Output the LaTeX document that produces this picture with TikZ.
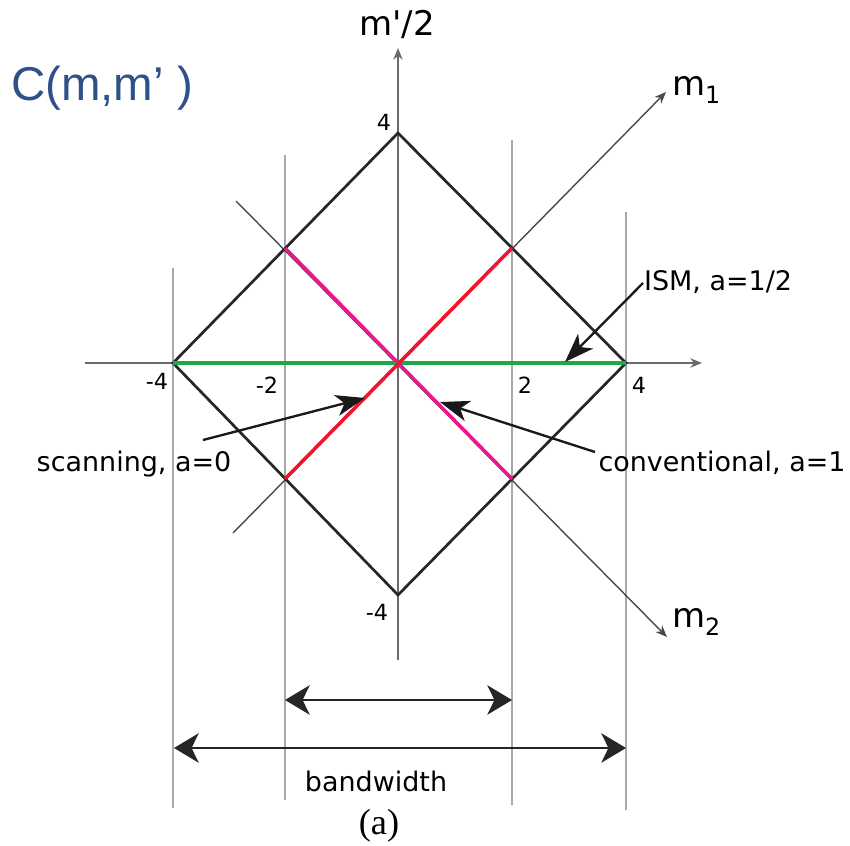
\documentclass[tikz,border=0pt]{standalone}
\usepackage{fontspec}
\setmainfont{DejaVu Sans}
\newfontfamily\arialf{Liberation Sans}
\newfontfamily\timesf{Liberation Serif}
\newfontfamily\plainsans[Ligatures=ResetAll]{DejaVu Sans}
\usetikzlibrary{arrows.meta}
\definecolor{titleblue}{HTML}{2D5289}
\definecolor{gridgray}{HTML}{A8A8A8}
\definecolor{axisgray}{HTML}{6A6A6A}
\definecolor{diaggray}{HTML}{4A4A4A}
\definecolor{pinkline}{HTML}{EC178C}
\definecolor{redline}{HTML}{F2142C}
\definecolor{greenline}{HTML}{1DA94B}
\begin{document}
\begin{tikzpicture}[x=0.03cm,y=-0.03cm,
  gridline/.style={draw=gridgray,line width=1.1pt},
  axisline/.style={draw=axisgray,line width=1.3pt,-{Stealth[length=10pt,width=8pt]}},
  diagarrow/.style={draw=diaggray,line width=1.2pt,-{Stealth[length=10pt,width=8pt]}},
  diamondline/.style={draw=black!85,line width=2.3pt,line join=miter},
  colline/.style={line width=3pt},
  annot/.style={draw=black!90,line width=2pt,-{Stealth[length=25pt,width=18pt,inset=7pt]}},
  dbl/.style={draw=black!85,line width=2.4pt,{Stealth[length=21pt,width=25pt,inset=6pt]}-{Stealth[length=21pt,width=25pt,inset=6pt]}},
  tick/.style={font=\fontsize{19}{22}\selectfont},
  lab/.style={font=\fontsize{23}{27}\selectfont},
  axlab/.style={font=\fontsize{29}{33}\selectfont}]
\useasboundingbox (0,0) rectangle (850,845);

% key points
\coordinate (O) at (398,363);
\coordinate (L) at (173,363);
\coordinate (R) at (626,363);
\coordinate (T) at (398,133);
\coordinate (B) at (398,595);
\coordinate (TL) at (285,248);
\coordinate (TR) at (512,248);
\coordinate (BL) at (285,479);
\coordinate (BR) at (512,479);

% vertical grey lines
\coordinate (v1a) at (173,268); \coordinate (v1b) at (173,808);
\coordinate (v2a) at (285,155); \coordinate (v2b) at (285,800);
\coordinate (v3a) at (512,140); \coordinate (v3b) at (512,805);
\coordinate (v4a) at (626,212); \coordinate (v4b) at (626,810);
\draw[gridline] (v1a) -- (v1b);
\draw[gridline] (v2a) -- (v2b);
\draw[gridline] (v3a) -- (v3b);
\draw[gridline] (v4a) -- (v4b);

% axes
\coordinate (xa) at (85,363); \coordinate (xb) at (702,363);
\coordinate (ya) at (398,660); \coordinate (yb) at (398,48);
\draw[axisline] (xa) -- (xb);
\draw[axisline] (ya) -- (yb);

% diagonal m1, m2 lines
\coordinate (m1a) at (233,533); \coordinate (m1b) at (666,92);
\coordinate (m2a) at (236,201); \coordinate (m2b) at (667,637);
\draw[diagarrow] (m1a) -- (m1b);
\draw[diagarrow] (m2a) -- (m2b);

% diamond
\draw[diamondline] (L) -- (T) -- (R) -- (B) -- cycle;

% coloured lines
\draw[colline,draw=greenline] (L) -- (R);
\draw[colline,draw=pinkline] (TL) -- (BR);
\draw[colline,draw=redline] (BL) -- (TR);

% tick labels
\node[tick] (t4top) at (384,122) {4};
\node[tick] (tm4l) at (157,381) {-4};
\node[tick] (tm2) at (267,385) {-2};
\node[tick] (t2) at (525,385) {2};
\node[tick] (t4r) at (639,385) {4};
\node[tick] (tm4b) at (377,612) {-4};

% axis labels
\node[font=\plainsans\fontsize{29}{33}\selectfont] (ylab) at (397,24) {m'/2};
\node[axlab,anchor=west] (m1lab) at (668,90) {m$_{\mathrm{1}}$};
\node[axlab,anchor=west] (m2lab) at (668,622) {m$_{\mathrm{2}}$};
\node[font=\arialf\fontsize{40.5}{46}\selectfont,text=titleblue,anchor=west] (title) at (7,88) {C(m,m’ )};

% annotations
\node[lab,anchor=west] (ism) at (640,282) {ISM, a=1/2};
\node[lab] (scan) at (134,464) {scanning, a=0};
\node[lab] (conv) at (722,463) {conventional, a=1};
\coordinate (isms) at (643,283); \coordinate (ismt) at (565,362);
\coordinate (scans) at (203,440); \coordinate (scant) at (365,398);
\coordinate (convs) at (595,452); \coordinate (convt) at (440,402);
\draw[annot] (isms) -- (ismt);
\draw[annot] (scans) -- (scant);
\draw[annot] (convs) -- (convt);

% double arrows
\coordinate (d1a) at (285,700); \coordinate (d1b) at (512,700);
\coordinate (d2a) at (174,748); \coordinate (d2b) at (626,748);
\draw[dbl] (d1a) -- (d1b);
\draw[dbl] (d2a) -- (d2b);
\node[lab] (bw) at (376,781) {bandwidth};
\node[font=\timesf\fontsize{31}{35}\selectfont] (cap) at (379,826) {(a)};
\end{tikzpicture}
\end{document}
